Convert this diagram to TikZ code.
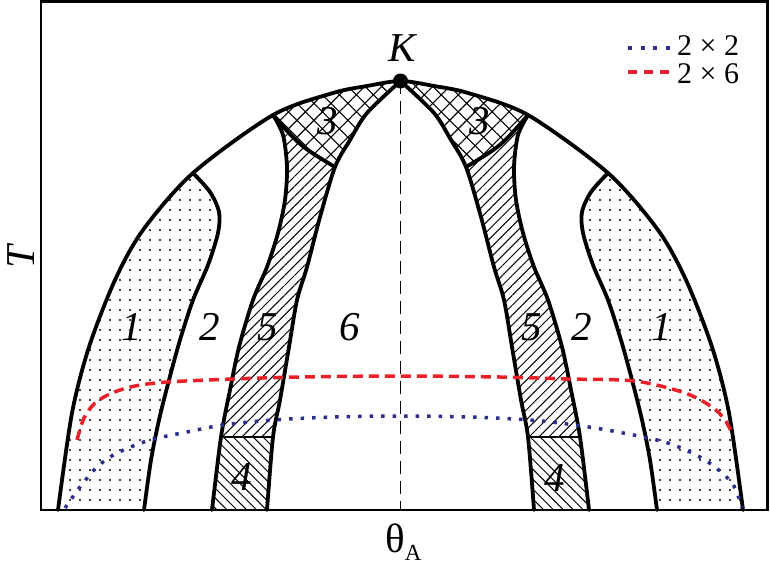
\documentclass[tikz,border=0pt]{standalone}
\usepackage{fontspec}
\setmainfont{Liberation Serif}
\usetikzlibrary{patterns.meta}
\definecolor{myred}{HTML}{E8202A}
\definecolor{myblue}{HTML}{2B2E8C}
\begin{document}
\begin{tikzpicture}[x=1pt,y=-1pt,
  curve/.style={line width=3.8pt, line join=round, line cap=round},
  frame/.style={line width=2.5pt},
  dotpat/.style={pattern={Dots[distance=10pt,radius=1.2pt]}},
  crosspat/.style={pattern={Hatch[angle=45,distance=12pt,line width=1.1pt]}},
  nepat/.style={pattern={Lines[angle=45,distance=7pt,line width=1pt]}},
  nwpat/.style={pattern={Lines[angle=-45,distance=7pt,line width=1pt]}},
  reddash/.style={myred, line width=3.5pt, dash pattern=on 10pt off 6pt},
  bluedot/.style={myblue, line width=3.5pt, dash pattern=on 3.5pt off 8pt},
  centerdash/.style={line width=1.5pt, dash pattern=on 13pt off 7pt},
  lab/.style={font=\fontsize{41}{42}\selectfont\itshape, inner sep=0pt},
  legtext/.style={font=\fontsize{30}{31}\selectfont, inner sep=0pt},
  axlab/.style={font=\fontsize{41}{42}\selectfont, inner sep=0pt}]
\useasboundingbox (0,0) rectangle (770,570);

\def\pDome{plot[smooth] coordinates {(58,510) (72,413) (89,347) (115,280) (143,230) (193,173) (273,115) (333,93) (367,86) (400.5,81) (434,86) (468,93) (528,115) (608,173) (658,230) (686,280) (712,347) (729,413) (743,510)}}
\def\pA{plot[smooth] coordinates {(193,173) (210,192) (219,212) (218,233) (208,265) (193,300) (180,340) (169,380) (159,420) (151,460) (144,510)}}
\def\pB{plot[smooth] coordinates {(273,115) (283,135) (287,167) (285,200) (278,233) (267,267) (253,300) (239,347) (230,390) (221,437) (212,510)}}
\def\pC{plot[smooth] coordinates {(400.5,81) (367,113) (350,140) (335,167) (320,217) (307,267) (297,300) (289,347) (280,400) (273,437) (267,510)}}

\foreach \sx/\sh in {1/0,-1/801}{
 \begin{scope}[x=\sx pt, xshift=\sh pt]
  % region 1
  \begin{scope}
   \edef\tmp{\noexpand\clip \pDome -- cycle;}\tmp
   \edef\tmp{\noexpand\clip (193,0) -- \pA -- (144,520) -- (0,520) -- (0,0) -- cycle;}\tmp
   \fill[dotpat] (0,0) rectangle (401,520);
  \end{scope}
  % band between B and C
  \begin{scope}
   \edef\tmp{\noexpand\clip \pDome -- (400.5,520) -- (58,520) -- cycle;}\tmp
   \edef\tmp{\noexpand\clip (273,0) -- \pB -- (212,520) -- (400.5,520) -- (400.5,0) -- cycle;}\tmp
   \edef\tmp{\noexpand\clip (400.5,0) -- \pC -- (267,520) -- (0,520) -- (0,0) -- cycle;}\tmp
   \begin{scope}
    \clip (200,0) -- (200,115) -- (273,115) .. controls (300,146) .. (335,167) -- (401,167) -- (401,0) -- cycle;
    \fill[crosspat] (0,0) rectangle (401,520);
   \end{scope}
   \begin{scope}
    \clip (200,115) -- (273,115) .. controls (300,146) .. (335,167) -- (401,167) -- (401,437) -- (200,437) -- cycle;
    \fill[nepat] (0,0) rectangle (401,520);
   \end{scope}
   \begin{scope}
    \clip (0,437) rectangle (401,510);
    \fill[nwpat] (0,0) rectangle (401,520);
   \end{scope}
  \end{scope}
  \edef\tmp{\noexpand\draw[curve] \pA;}\tmp
  \edef\tmp{\noexpand\draw[curve] \pB;}\tmp
  \edef\tmp{\noexpand\draw[curve] \pC;}\tmp
  \draw[curve] (273,115) .. controls (300,146) .. (335,167);
  \draw[line width=2.8pt] (221,437) -- (273,437);
 \end{scope}
}
\edef\tmp{\noexpand\draw[curve] \pDome;}\tmp

% K point and centre line
\coordinate (base) at (400.5,510);
\draw[centerdash] (400.5,81) -- (base);
\node[circle, fill=black, inner sep=0pt, minimum size=15pt] (K) at (400.5,81) {};

% model curves
\draw[reddash] plot[smooth] coordinates {(77,440) (84,418) (95,403) (112,393) (135,386) (167,382) (233,379) (300,377) (400.5,376) (500,377) (568,379) (635,381) (685,393) (712,407) (725,420) (733,435)};
\draw[bluedot] plot[smooth] coordinates {(65,508) (80,487) (97,467) (117,453) (150,440) (187,432) (223,425) (273,420) (333,417) (400.5,416) (470,417) (530,420) (575,425) (618,432) (668,443) (705,460) (732,483) (742,508)};

% frame
\draw[frame] (41,1.5) rectangle (767.5,510);

% labels
\node[lab] (kl) at (402,48) {K};
\node[lab] (l1a) at (132,327) {1};
\node[lab] (l2a) at (210,327) {2};
\node[lab] (l5a) at (268,327) {5};
\node[lab] (l6) at (350,327) {6};
\node[lab] (l4a) at (242,477) {4};
\node[lab] (l3a) at (328,121) {3};
\node[lab] (l3b) at (480,121) {3};
\node[lab] (l5b) at (532,327) {5};
\node[lab] (l2b) at (582,327) {2};
\node[lab] (l1b) at (662,327) {1};
\node[lab] (l4b) at (555,478) {4};

% axis labels
\node[axlab, anchor=base west] (xl) at (385,552) {θ\raisebox{-8pt}{\fontsize{23}{23}\selectfont A}};
\node[axlab, rotate=90, font=\fontsize{41}{42}\selectfont\itshape] (yl) at (21,257) {T};

% legend
\coordinate (lb1) at (628,48);
\coordinate (lb2) at (670,48);
\coordinate (lr1) at (628,72);
\coordinate (lr2) at (670,72);
\draw[bluedot, dash pattern=on 4pt off 8.5pt] (lb1) -- (lb2);
\draw[reddash, dash pattern=on 9pt off 7pt] (lr1) -- (lr2);
\node[legtext, anchor=west] (lt1) at (677,46) {2 × 2};
\node[legtext, anchor=west] (lt2) at (677,74) {2 × 6};
\end{tikzpicture}
\end{document}
